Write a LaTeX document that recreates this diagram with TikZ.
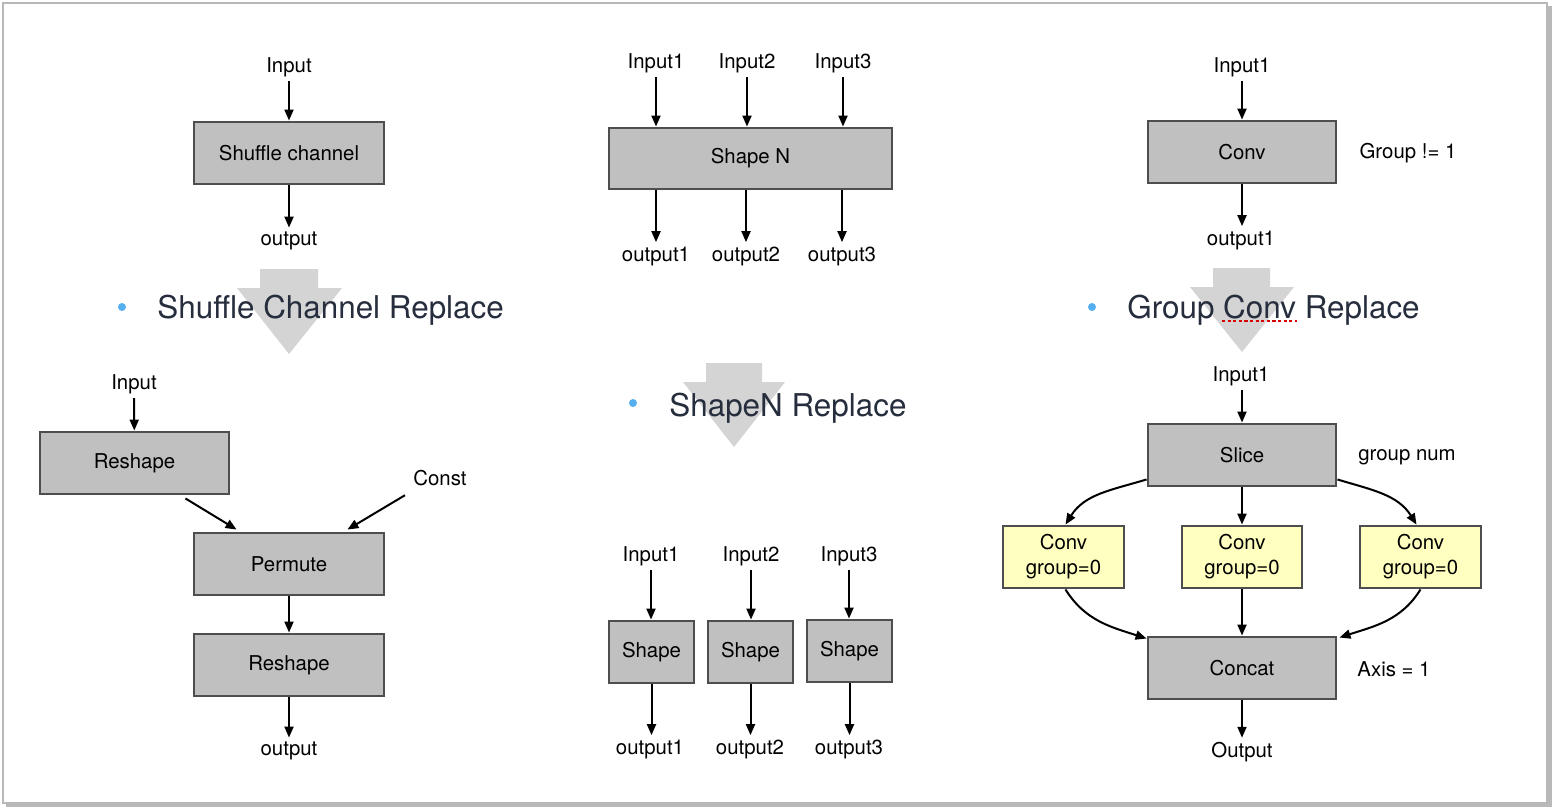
\documentclass[tikz,border=0pt]{standalone}
\usepackage{fontspec}
\setmainfont{TeX Gyre Heros}
\usetikzlibrary{arrows.meta,calc}
\definecolor{boxfill}{HTML}{C0C0C0}
\definecolor{boxborder}{HTML}{4E4E4E}
\definecolor{yfill}{HTML}{FFFFC0}
\definecolor{bigarrow}{HTML}{D4D4D4}
\definecolor{titlecol}{HTML}{262D3D}
\definecolor{bulletcol}{HTML}{56B0F0}
\definecolor{framecol}{HTML}{B8B8B8}
\newcommand{\lblfont}{\fontsize{10.2}{12.5}\selectfont}
\newcommand{\ttlfont}{\fontsize{15.7}{18}\selectfont}
\begin{document}
\begin{tikzpicture}[x=0.5pt,y=-0.5pt,
  box/.style={draw=boxborder,fill=boxfill,line width=1.45pt,font=\lblfont,inner sep=0pt,align=center},
  ybox/.style={box,fill=yfill},
  lbl/.style={font=\lblfont,inner sep=2pt},
  arr/.style={-{Triangle[length=5.5pt,width=4.5pt]},line width=1pt,black},
  ttl/.style={font=\ttlfont,text=titlecol,inner sep=0pt,anchor=base west},
  bul/.style={fill=bulletcol,draw=none},
  bigarr/.style={fill=bigarrow,draw=none}]
\useasboundingbox (0,0) rectangle (1552,808);
\fill[white] (0,0) rectangle (1552,808);
% frame with shadow
\draw[gray!55,line width=2pt] (6,805) -- (1550,805) -- (1550,6);
\draw[framecol,line width=0.6pt] (3,3) rectangle (1547,803);

% big grey arrows
\fill[bigarr] (260,269) -- (318,269) -- (318,288) -- (342,288) -- (289,354) -- (237,288) -- (260,288) -- cycle;
\fill[bigarr] (706,363) -- (762,363) -- (762,382) -- (785,382) -- (734,447) -- (683,382) -- (706,382) -- cycle;
\fill[bigarr] (1213,268) -- (1270,268) -- (1270,287) -- (1294,287) -- (1242,352) -- (1190,287) -- (1213,287) -- cycle;

% titles
\fill[bul] (122,307) circle (4);
\node[ttl] (t1) at (157,318) {Shuffle Channel Replace};
\fill[bul] (633,403) circle (4);
\node[ttl] (t2) at (669,416) {ShapeN Replace};
\fill[bul] (1092,307) circle (4);
\node[ttl] (t3) at (1127,318) {Group Conv Replace};
\draw[red!85!black,line width=1pt,dash pattern=on 1.6pt off 1.2pt] (1222,321) -- (1297,321);

% ---------- left top ----------
\node[lbl] (lin) at (289,67) {Input};
\node[box,minimum width=95pt,minimum height=31pt] (shuf) at (289,153) {Shuffle channel};
\node[lbl] (lout) at (289,241) {output};
\draw[arr] (lin) -- (shuf);
\draw[arr] (shuf) -- (lout);

% ---------- left bottom ----------
\node[lbl] (lin2) at (134,384) {Input};
\node[box,minimum width=94.5pt,minimum height=31pt] (resh1) at (134.5,463) {Reshape};
\node[lbl] (const) at (440,478) {Const};
\node[box,minimum width=95pt,minimum height=31pt] (perm) at (289,564) {Permute};
\node[box,minimum width=95pt,minimum height=31pt] (resh2) at (289,665) {Reshape};
\node[lbl] (lout2) at (289,751) {output};
\draw[arr] (lin2) -- (resh1);
\draw[arr] ($(resh1.south east)+(-45,3)$) -- ($(perm.north west)+(44,-2)$);
\draw[arr] ($(const.south west)+(-4,5)$) -- ($(perm.north east)+(-38,-2)$);
\draw[arr] (perm) -- (resh2);
\draw[arr] (resh2) -- (lout2);

% ---------- middle top ----------
\node[lbl] (min1) at (656,63) {Input1};
\node[lbl] (min2) at (747,63) {Input2};
\node[lbl] (min3) at (843,63) {Input3};
\node[box,minimum width=141.5pt,minimum height=30.5pt] (shapeN) at (750.5,158.5) {Shape N};
\node[lbl] (mout1) at (656,256) {output1};
\node[lbl] (mout2) at (746,256) {output2};
\node[lbl] (mout3) at (842,256) {output3};
\draw[arr] (min1.south) -- (min1.south |- shapeN.north);
\draw[arr] (min2.south) -- (min2.south |- shapeN.north);
\draw[arr] (min3.south) -- (min3.south |- shapeN.north);
\draw[arr] (mout1.north |- shapeN.south) -- (mout1.north);
\draw[arr] (mout2.north |- shapeN.south) -- (mout2.north);
\draw[arr] (mout3.north |- shapeN.south) -- (mout3.north);

% ---------- middle bottom ----------
\node[lbl] (bin1) at (651,556) {Input1};
\node[lbl] (bin2) at (751,556) {Input2};
\node[lbl] (bin3) at (849,556) {Input3};
\node[box,minimum width=42.5pt,minimum height=31pt] (sh1) at (651.5,652) {Shape};
\node[box,minimum width=42.5pt,minimum height=31pt] (sh2) at (750.5,652) {Shape};
\node[box,minimum width=42.5pt,minimum height=31pt] (sh3) at (849.5,651) {Shape};
\node[lbl] (bout1) at (650,749) {output1};
\node[lbl] (bout2) at (750,749) {output2};
\node[lbl] (bout3) at (849,749) {output3};
\draw[arr] (bin1) -- (bin1 |- sh1.north);
\draw[arr] (bin2) -- (bin2 |- sh2.north);
\draw[arr] (bin3) -- (bin3 |- sh3.north);
\draw[arr] (sh1.south) -- (sh1.south |- bout1.north);
\draw[arr] (sh2.south) -- (sh2.south |- bout2.north);
\draw[arr] (sh3.south) -- (sh3.south |- bout3.north);

% ---------- right top ----------
\node[lbl] (rin) at (1242,67) {Input1};
\node[box,minimum width=94pt,minimum height=31pt] (conv) at (1242,152) {Conv};
\node[lbl] (grp) at (1408,153) {Group != 1};
\node[lbl] (rout) at (1241,240) {output1};
\draw[arr] (rin) -- (conv);
\draw[arr] (conv.south) -- (conv.south |- rout.north);

% ---------- right bottom ----------
\node[lbl] (rin2) at (1241,376) {Input1};
\node[box,minimum width=94pt,minimum height=31pt] (slice) at (1242,455) {Slice};
\node[lbl] (gnum) at (1407,457) {group num};
\node[ybox,minimum width=60.5pt,minimum height=31pt] (c1) at (1063.5,557) {Conv\\group=0};
\node[ybox,minimum width=60pt,minimum height=31pt] (c2) at (1242,557) {Conv\\group=0};
\node[ybox,minimum width=60.5pt,minimum height=31pt] (c3) at (1420.5,557) {Conv\\group=0};
\node[box,minimum width=94pt,minimum height=31pt] (concat) at (1242,668) {Concat};
\node[lbl] (axis) at (1394,669) {Axis = 1};
\node[lbl] (rout2) at (1242,752) {Output};
\draw[arr] (rin2.south -| slice.north) -- (slice);
\draw[arr] ($(slice.south west)+(0,-8)$) to[out=197,in=58] ($(c1.north)+(2,0)$);
\draw[arr] (slice) -- (c2);
\draw[arr] ($(slice.south east)+(0,-8)$) to[out=-17,in=122] ($(c3.north)+(-4,0)$);
\draw[arr] ($(c1.south)+(2,0)$) to[out=-58,in=162] ($(concat.north west)+(0,3)$);
\draw[arr] (c2) -- (concat);
\draw[arr] ($(c3.south)+(0,0)$) to[out=-122,in=18] ($(concat.north east)+(2,2)$);
\draw[arr] (concat) -- (rout2);
\end{tikzpicture}
\end{document}
